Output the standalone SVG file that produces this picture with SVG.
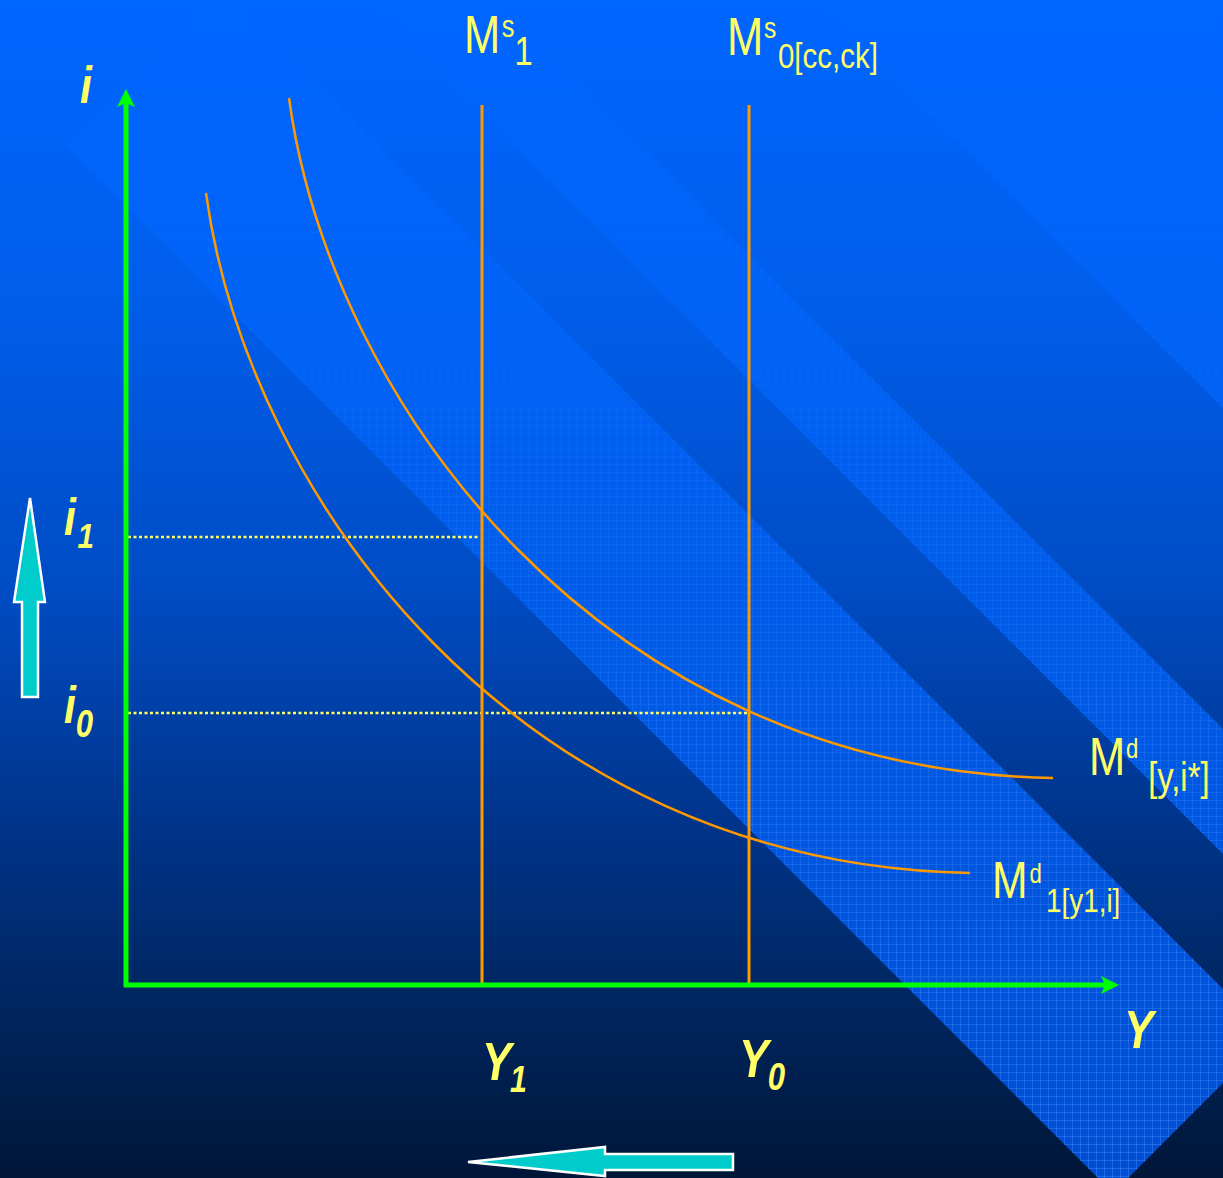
<svg xmlns="http://www.w3.org/2000/svg" width="1223" height="1178" viewBox="0 0 1223 1178">
<style>
.lbl{font-family:"Liberation Sans",Arial,sans-serif;fill:#ffff66}
.bi{font-weight:bold;font-style:italic}
.orange{stroke:#ff9900;fill:none}
.dot{stroke:#ffff66;stroke-width:2.5;stroke-dasharray:3 2.5;fill:none}
.axis{stroke:#00ff00;stroke-width:5;fill:none}
.head{fill:#00ff00}
.cyan{fill:#00cccc;stroke:#ffffff;stroke-width:2.5;stroke-linejoin:miter}
</style>
<defs>
<linearGradient id="bg" x1="0" y1="0" x2="0" y2="1178" gradientUnits="userSpaceOnUse">
<stop offset="0" stop-color="#0066ff"/>
<stop offset="0.25" stop-color="#005eec"/>
<stop offset="0.5" stop-color="#004cc4"/>
<stop offset="0.7" stop-color="#00348a"/>
<stop offset="0.85" stop-color="#002660"/>
<stop offset="1" stop-color="#001638"/>
</linearGradient>
<linearGradient id="band" x1="0" y1="0" x2="0" y2="1178" gradientUnits="userSpaceOnUse">
<stop offset="0" stop-color="#0066ff"/>
<stop offset="0.3" stop-color="#0062f6"/>
<stop offset="0.6" stop-color="#005ae6"/>
<stop offset="1" stop-color="#004ed2"/>
</linearGradient>
<linearGradient id="fade" x1="0" y1="0" x2="0" y2="1178" gradientUnits="userSpaceOnUse">
<stop offset="0" stop-color="#000"/>
<stop offset="0.35" stop-color="#333"/>
<stop offset="1" stop-color="#fff"/>
</linearGradient>
<mask id="gridmask" maskUnits="userSpaceOnUse" x="0" y="0" width="1223" height="1178">
<rect x="0" y="0" width="1223" height="1178" fill="url(#fade)"/>
</mask>
<pattern id="grid" width="8" height="8" patternUnits="userSpaceOnUse">
<path d="M0 0.5H8M0.5 0V8" stroke="#4d90ff" stroke-opacity="0.4" stroke-width="1" fill="none"/>
</pattern>
</defs>

<g id="background">
<rect x="0" y="0" width="1223" height="1178" fill="url(#bg)"/>
<g id="bands">
<polygon points="65,145 222,-12 1270,1036 1113,1193" fill="url(#band)"/>
<polygon points="369,0 494,0 1223,729 1223,854" fill="url(#band)"/>
<polygon points="815,0 1223,0 1223,408" fill="url(#band)"/>
<g mask="url(#gridmask)">
<polygon points="65,145 222,-12 1270,1036 1113,1193" fill="url(#grid)"/>
<polygon points="369,0 494,0 1223,729 1223,854" fill="url(#grid)"/>
<polygon points="815,0 1223,0 1223,408" fill="url(#grid)"/>
</g>
</g>
</g>

<g id="connectors">
<line id="dot-i1" class="dot" x1="128" y1="537" x2="478" y2="537"/>
<line id="dot-i0" class="dot" x1="128" y1="713" x2="749" y2="713"/>
<line id="ms1-line" class="orange" stroke-width="3" x1="482" y1="105" x2="482" y2="985"/>
<line id="ms0-line" class="orange" stroke-width="3" x1="749" y1="105" x2="749" y2="985"/>
<path id="md-curve" class="orange" stroke-width="2.5" d="M289,98 C330,400 600,770 1053,778"/>
<path id="md1-curve" class="orange" stroke-width="2.5" d="M206,193 C247,495 517,865 970,873"/>
<line id="y-axis" class="axis" x1="126" y1="987" x2="126" y2="100"/>
<polygon class="head" points="126,89 117,107 126,103 135,107"/>
<line id="x-axis" class="axis" x1="124" y1="985" x2="1108" y2="985"/>
<polygon class="head" points="1119,985 1101,976 1105,985 1101,994"/>
</g>

<g id="label-i"><text class="lbl bi" font-size="52" transform="translate(80,103) scale(0.82,1)">i</text></g>
<g id="label-i1"><text class="lbl bi" font-size="52" transform="translate(64,535) scale(0.82,1)">i<tspan font-size="36" dx="2" dy="13">1</tspan></text></g>
<g id="label-i0"><text class="lbl bi" font-size="52" transform="translate(64,723) scale(0.82,1)">i<tspan font-size="38" dx="0" dy="14">0</tspan></text></g>
<g id="label-Y1"><text class="lbl bi" font-size="54" transform="translate(482,1080) scale(0.82,1)">Y<tspan font-size="37" dx="-2" dy="12">1</tspan></text></g>
<g id="label-Y0"><text class="lbl bi" font-size="54" transform="translate(739,1077) scale(0.82,1)">Y<tspan font-size="38" dx="-1" dy="13">0</tspan></text></g>
<g id="label-Y"><text class="lbl bi" font-size="54" transform="translate(1124,1048) scale(0.82,1)">Y</text></g>

<g id="label-Ms1"><text class="lbl" font-size="53" transform="translate(464,53) scale(0.82,1)">M<tspan font-size="31" dx="2" dy="-16">s</tspan><tspan font-size="40" dx="0" dy="28">1</tspan></text></g>
<g id="label-Ms0"><text class="lbl" font-size="53" transform="translate(727,55) scale(0.82,1)">M<tspan font-size="30" dx="1" dy="-17">s</tspan><tspan font-size="36" dx="2" dy="30">0[cc,ck]</tspan></text></g>
<g id="label-Md"><text class="lbl" font-size="53" transform="translate(1089,775) scale(0.82,1)">M<tspan font-size="27" dx="1" dy="-17">d</tspan><tspan font-size="40" dx="12" dy="33">[y,i*]</tspan></text></g>
<g id="label-Md1"><text class="lbl" font-size="52" transform="translate(992,898) scale(0.82,1)">M<tspan font-size="27" dx="2.5" dy="-15">d</tspan><tspan font-size="34" dx="5" dy="29">1[y1,i]</tspan></text></g>

<g id="arrow-up"><polygon class="cyan" points="30,498 45,602 38,602 38,697 22,697 22,602 14,602"/></g>
<g id="arrow-left"><polygon class="cyan" points="468,1162 605,1147 605,1154 733,1154 733,1170 605,1170 605,1176"/></g>
</svg>
